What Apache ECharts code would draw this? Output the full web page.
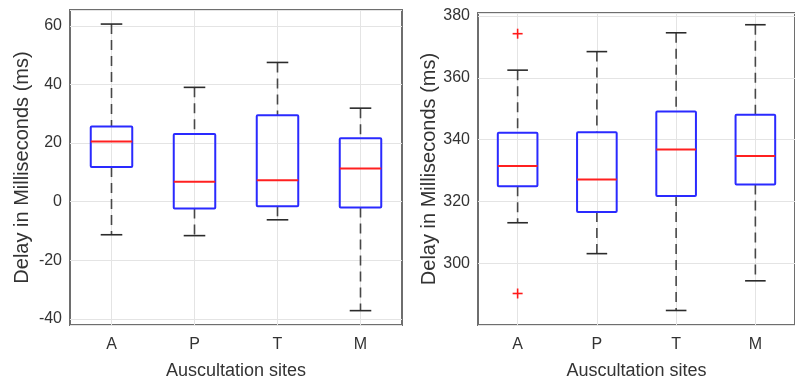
<!DOCTYPE html>
<html>
<head>
<meta charset="utf-8">
<script src="https://cdn.jsdelivr.net/npm/echarts@6/dist/echarts.min.js"></script>
<style>
  html, body { margin: 0; padding: 0; background: #fff; }
  #chart { width: 795px; height: 385px; }
</style>
</head>
<body>
<div id="chart"></div>
<script>
// 听诊部位
const sites = ['A', 'P', 'T', 'M']

// 左图：每个部位 [下须, Q1, 中位数, Q3, 上须]
const boxLeft = [
  [-11.3, 11.8, 20.5, 25.6, 60.6],
  [-11.6, -2.3, 6.8, 23.1, 39.0],
  [-6.2, -1.6, 7.3, 29.5, 47.5],
  [-37.2, -2.0, 11.3, 21.6, 31.9]
]

// 右图：每个部位 [下须, Q1, 中位数, Q3, 上须]
const boxRight = [
  [313.1, 324.9, 331.5, 342.2, 362.5],
  [303.1, 316.6, 327.1, 342.4, 368.5],
  [284.7, 321.8, 336.8, 349.1, 374.6],
  [294.3, 325.5, 334.7, 348.1, 377.2]
]

// 右图异常值
const outlierSites = ['A', 'A']
const outlierValues = [374.3, 290.2]

const yTicksLeft = [-40, -20, 0, 20, 40, 60]
const yTicksRight = [300, 320, 340, 360, 380]

const frameColor = '#6e6e6e'
const textColor = '#333'
const gridLineColor = '#e4e4e4'

const chart = echarts.init(document.getElementById('chart'))

// 箱线图绘制：虚线须、黑色端线、蓝色箱体、红色中位线
function renderBox(params, api) {
  const x = api.value(0)
  const lo = api.value(1)
  const q1 = api.value(2)
  const med = api.value(3)
  const q3 = api.value(4)
  const hi = api.value(5)
  const band = api.size([1, 0])[0]
  const half = band * 0.25
  const cap = band * 0.13
  const pLo = api.coord([x, lo])
  const pQ1 = api.coord([x, q1])
  const pMed = api.coord([x, med])
  const pQ3 = api.coord([x, q3])
  const pHi = api.coord([x, hi])
  const cx = pMed[0]
  const dash = { stroke: '#474747', lineWidth: 1.6, lineDash: [10, 6] }
  const capStyle = { stroke: '#2b2b2b', lineWidth: 1.6 }
  return {
    type: 'group',
    children: [
      { type: 'line', shape: { x1: cx, y1: pHi[1], x2: cx, y2: pQ3[1] }, style: dash },
      { type: 'line', shape: { x1: cx, y1: pQ1[1], x2: cx, y2: pLo[1] }, style: dash },
      { type: 'line', shape: { x1: cx - cap, y1: pHi[1], x2: cx + cap, y2: pHi[1] }, style: capStyle },
      { type: 'line', shape: { x1: cx - cap, y1: pLo[1], x2: cx + cap, y2: pLo[1] }, style: capStyle },
      {
        type: 'rect',
        shape: { x: cx - half, y: pQ3[1], width: half * 2, height: pQ1[1] - pQ3[1], r: 1 },
        style: { fill: 'none', stroke: '#2a2aff', lineWidth: 2 }
      },
      {
        type: 'line',
        shape: { x1: cx - half, y1: pMed[1], x2: cx + half, y2: pMed[1] },
        style: { stroke: '#ff2020', lineWidth: 2 }
      }
    ]
  }
}

// 异常值用红色“+”
function renderPlus(params, api) {
  const p = api.coord([api.value(0), api.value(1)])
  const s = 5
  const st = { stroke: '#ff1a1a', lineWidth: 1.6 }
  return {
    type: 'group',
    children: [
      { type: 'line', shape: { x1: p[0] - s, y1: p[1], x2: p[0] + s, y2: p[1] }, style: st },
      { type: 'line', shape: { x1: p[0], y1: p[1] - s, x2: p[0], y2: p[1] + s }, style: st }
    ]
  }
}

function xAxisBottom(gridIndex) {
  return {
    gridIndex,
    type: 'category',
    data: sites,
    position: 'bottom',
    boundaryGap: true,
    axisLine: { show: false },
    axisTick: { inside: true, alignWithLabel: true, length: 4, lineStyle: { color: frameColor, width: 1.2 } },
    axisLabel: { margin: 12, fontSize: 16, color: textColor, fontFamily: 'Liberation Sans' },
    splitLine: { show: true, alignWithLabel: true, lineStyle: { color: gridLineColor, width: 1 } },
    name: 'Auscultation sites',
    nameLocation: 'middle',
    nameGap: 37,
    nameTextStyle: { fontSize: 18, color: textColor, fontFamily: 'Liberation Sans' }
  }
}

function xAxisTop(gridIndex) {
  return {
    gridIndex,
    type: 'category',
    data: sites,
    position: 'top',
    boundaryGap: true,
    axisLine: { show: false },
    axisTick: { inside: true, alignWithLabel: true, length: 4, lineStyle: { color: frameColor, width: 1.2 } },
    axisLabel: { show: false },
    splitLine: { show: false }
  }
}

function yAxisLeft(gridIndex, min, max, ticks) {
  return {
    gridIndex,
    type: 'value',
    position: 'left',
    min,
    max,
    axisLine: { show: false },
    axisTick: { inside: true, length: 4, lineStyle: { color: frameColor, width: 1.2 } },
    axisLabel: {
      margin: 8,
      fontSize: 16,
      color: textColor,
      fontFamily: 'Liberation Sans',
      showMinLabel: ticks.includes(min),
      showMaxLabel: ticks.includes(max),
      formatter: (v) => (ticks.includes(v) ? String(v) : '')
    },
    splitLine: { show: true, lineStyle: { color: gridLineColor, width: 1 } },
    name: 'Delay in Milliseconds (ms)',
    nameLocation: 'middle',
    nameGap: 38,
    nameTextStyle: { fontSize: 20, color: textColor, fontFamily: 'Liberation Sans' }
  }
}

function yAxisRight(gridIndex, min, max) {
  return {
    gridIndex,
    type: 'value',
    position: 'right',
    min,
    max,
    axisLine: { show: false },
    axisTick: { inside: true, length: 4, lineStyle: { color: frameColor, width: 1.2 } },
    axisLabel: { show: false },
    splitLine: { show: false }
  }
}

const option = {
  animation: false,
  backgroundColor: '#fff',
  grid: [
    { left: 70, top: 10, width: 332, height: 318, show: true, borderColor: frameColor, borderWidth: 2 },
    { left: 478, top: 13, right: -9, height: 316, show: true, borderColor: frameColor, borderWidth: 2 }
  ],
  xAxis: [xAxisBottom(0), xAxisTop(0), xAxisBottom(1), xAxisTop(1)],
  yAxis: [
    yAxisLeft(0, -42.1, 65.4, yTicksLeft),
    yAxisRight(0, -42.1, 65.4),
    Object.assign(yAxisLeft(1, 280, 381, yTicksRight), { interval: 20 }),
    Object.assign(yAxisRight(1, 280, 381), { interval: 20 })
  ],
  series: [
    {
      type: 'custom',
      xAxisIndex: 0,
      yAxisIndex: 0,
      renderItem: renderBox,
      encode: { x: 0, y: [1, 2, 3, 4, 5] },
      data: sites.map((s, i) => [s].concat(boxLeft[i]))
    },
    {
      type: 'custom',
      xAxisIndex: 2,
      yAxisIndex: 2,
      renderItem: renderBox,
      encode: { x: 0, y: [1, 2, 3, 4, 5] },
      data: sites.map((s, i) => [s].concat(boxRight[i]))
    },
    {
      type: 'custom',
      xAxisIndex: 2,
      yAxisIndex: 2,
      renderItem: renderPlus,
      encode: { x: 0, y: 1 },
      data: outlierSites.map((s, i) => [s, outlierValues[i]])
    }
  ]
}

chart.setOption(option)
</script>
</body>
</html>
